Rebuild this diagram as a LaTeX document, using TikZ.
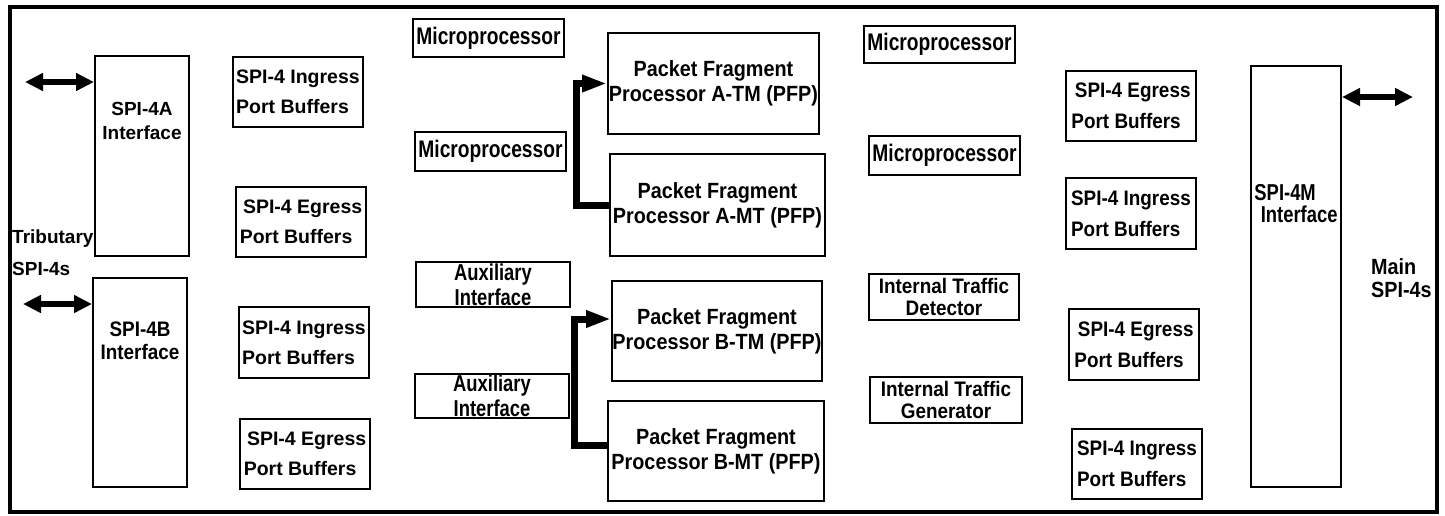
\documentclass[tikz,border=0pt]{standalone}
\usepackage{fontspec}
\setmainfont{Liberation Sans}
\newfontfamily\cnda[FakeStretch=0.8]{Liberation Sans}
\newfontfamily\cndb[FakeStretch=0.9]{Liberation Sans}
\usetikzlibrary{arrows.meta}

\tikzset{
  blk/.style = {draw, line width=2pt, inner sep=0pt, align=center,
                font=\fontsize{19}{24}\selectfont\bfseries},
  buf/.style = {blk, align=left, font=\fontsize{19.5}{30}\selectfont\bfseries},
  rbuf/.style = {blk, align=left, font=\cndb\fontsize{21}{31}\selectfont\bfseries},
  mic/.style = {blk, font=\cnda\fontsize{24}{28}\selectfont\bfseries},
  aux/.style = {blk, font=\cnda\fontsize{23}{25}\selectfont\bfseries},
  trf/.style = {blk, font=\cndb\fontsize{21}{22}\selectfont\bfseries},
  pfp/.style = {blk, font=\cndb\fontsize{22}{25}\selectfont\bfseries},
  lbl/.style = {inner sep=0pt, align=left, font=\fontsize{19}{24}\selectfont\bfseries},
  biarrow/.style = {line width=6pt, {Triangle[length=18pt,width=17pt]}-{Triangle[length=18pt,width=17pt]}},
  feed/.style = {line width=7pt, -{Triangle[length=25pt,width=16pt]}}
}

\begin{document}
\begin{tikzpicture}[x=1pt, y=-1pt]
\useasboundingbox (0,0) rectangle (1445,515);
\draw[line width=3.5pt] (10,7) rectangle (1437,512);

% tributary side
\node[blk, minimum width=94pt, minimum height=200pt,
  label={[lbl, align=center, anchor=north, yshift=-47pt]north:SPI-4A\\Interface}] (spiA) at (142,156) {};
\node[blk, minimum width=94pt, minimum height=209pt,
  label={[lbl, align=center, anchor=north, yshift=-45pt, font=\cndb\fontsize{21}{23}\selectfont\bfseries]north:SPI-4B\\Interface}] (spiB) at (140,382.5) {};
\node[lbl, anchor=north west, font=\fontsize{19}{32}\selectfont\bfseries] (trib) at (12,230) {Tributary\\SPI-4s};
\coordinate (tribA) at (25,82);
\coordinate (tribB) at (23,304);
\draw[biarrow] (tribA) -- (tribA -| spiA.west);
\draw[biarrow] (tribB) -- (tribB -| spiB.west);

\node[buf, minimum width=130pt, minimum height=70pt] (ingA) at (298,92) {SPI-4 Ingress\\Port Buffers};
\node[buf, minimum width=130pt, minimum height=70pt] (egrA) at (301,222) {\,SPI-4 Egress\\Port Buffers};
\node[buf, minimum width=130pt, minimum height=71pt] (ingB) at (304,342.5) {SPI-4 Ingress\\Port Buffers};
\node[buf, minimum width=130pt, minimum height=70pt] (egrB) at (305,454) {\,SPI-4 Egress\\Port Buffers};

% microprocessors and auxiliary interfaces
\node[mic, minimum width=151pt, minimum height=38pt] (micA) at (488.5,38) {Microprocessor};
\node[mic, minimum width=151pt, minimum height=39pt] (micB) at (490.5,151.5) {Microprocessor};
\node[aux, minimum width=154pt, minimum height=45pt] (auxA) at (493,284.5) {Auxiliary\\Interface};
\node[aux, minimum width=154pt, minimum height=44pt] (auxB) at (492,396) {Auxiliary\\Interface};

% packet fragment processors
\node[pfp, minimum width=211pt, minimum height=101pt] (pfpATM) at (713.5,83.5) {Packet Fragment\\Processor A-TM (PFP)};
\node[pfp, minimum width=215pt, minimum height=102pt] (pfpAMT) at (717.5,205) {Packet Fragment\\Processor A-MT (PFP)};
\node[pfp, minimum width=210pt, minimum height=100pt] (pfpBTM) at (717,331) {Packet Fragment\\Processor B-TM (PFP)};
\node[pfp, minimum width=216pt, minimum height=100pt] (pfpBMT) at (716,451) {Packet Fragment\\Processor B-MT (PFP)};
\draw[feed] (pfpAMT.west) -- ++(-33,0) |- (pfpATM.west);
\draw[feed] ([yshift=6pt]pfpBMT.west) -- ++(-33,0) |- ([yshift=12pt]pfpBTM.west);

% microprocessors and traffic blocks
\node[mic, minimum width=151pt, minimum height=37pt] (micC) at (939.5,44.5) {Microprocessor};
\node[mic, minimum width=151pt, minimum height=39pt] (micD) at (944.5,155.5) {Microprocessor};
\node[trf, minimum width=150pt, minimum height=46pt] (itd) at (944,297) {Internal Traffic\\Detector};
\node[trf, minimum width=152pt, minimum height=46pt] (itg) at (946,400) {Internal Traffic\\Generator};

% main side
\node[rbuf, minimum width=130pt, minimum height=70pt] (egrC) at (1131,106) {\,SPI-4 Egress\\Port Buffers};
\node[rbuf, minimum width=130pt, minimum height=71pt] (ingC) at (1131,213.5) {SPI-4 Ingress\\Port Buffers};
\node[rbuf, minimum width=130pt, minimum height=71pt] (egrD) at (1134,344.5) {\,SPI-4 Egress\\Port Buffers};
\node[rbuf, minimum width=130pt, minimum height=70pt] (ingD) at (1137,464) {SPI-4 Ingress\\Port Buffers};
\node[blk, minimum width=90pt, minimum height=421pt,
  label={[lbl, anchor=north, yshift=-119pt, font=\cnda\fontsize{23}{22}\selectfont\bfseries]north:SPI-4M\\\;Interface}] (spiM) at (1296,276.5) {};
\node[lbl, anchor=north west, font=\cndb\fontsize{22}{23}\selectfont\bfseries] (mainlbl) at (1371,258) {Main\\SPI-4s};
\coordinate (mainA) at (1413,97);
\draw[biarrow] (spiM.east |- mainA) -- (mainA);
\end{tikzpicture}
\end{document}
